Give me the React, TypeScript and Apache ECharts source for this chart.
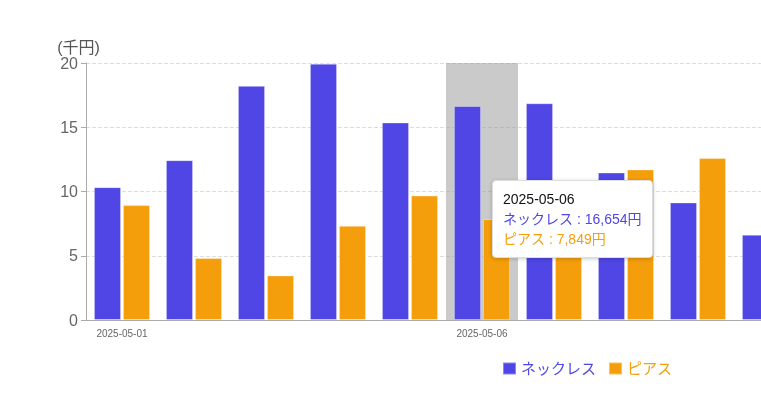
import React, { useEffect, useRef } from "react";
import * as echarts from "echarts";

const categories = [
  "2025-05-01", "2025-05-02", "2025-05-03", "2025-05-04", "2025-05-05",
  "2025-05-06", "2025-05-07", "2025-05-08", "2025-05-09", "2025-05-10",
];
// values in 千円
const necklace = [10.34, 12.44, 18.22, 19.95, 15.37, 16.654, 16.87, 11.48, 9.15, 6.64];
const earrings = [8.94, 4.82, 3.47, 7.33, 9.69, 7.849, 6.2, 11.72, 12.6, 8.4];
const seriesNames = ["ネックレス", "ピアス"];
const colors = ["#4f46e5", "#f59e0b"];
const yTicks = { min: 0, max: 20, interval: 5 };

const fmtYen = (v: number) => Math.round(v * 1000).toLocaleString("en-US") + "円";

export default function App() {
  const ref = useRef<HTMLDivElement>(null);
  useEffect(() => {
    if (!ref.current) return;
    const chart = echarts.init(ref.current, null, { renderer: "svg" });
    chart.setOption({
      animation: false,
      textStyle: { fontFamily: "Arial, 'Liberation Sans', 'Noto Sans CJK JP', sans-serif" },
      grid: { left: 78, top: 55, width: 720, height: 257 },
      legend: {
        left: 489,
        top: 348,
        icon: "rect",
        itemWidth: 13,
        itemHeight: 12,
        itemGap: 12,
        textStyle: { fontSize: 15 },
        data: seriesNames.map((n, i) => ({ name: n, textStyle: { color: colors[i] } })),
      },
      tooltip: {
        trigger: "axis",
        alwaysShowContent: true,
        transitionDuration: 0,
        axisPointer: { type: "shadow", z: 0, shadowStyle: { color: "rgba(150,150,150,0.5)" } },
        position: [484, 172],
        backgroundColor: "#fff",
        borderColor: "#ddd",
        borderWidth: 1,
        padding: [8, 10],
        extraCssText: "border-radius:4px;box-shadow:0 1px 4px rgba(0,0,0,0.2);",
        formatter: (params: any[]) => {
          let s = `<div style="font-size:14px;color:#111;line-height:20px">${params[0].axisValue}</div>`;
          params.forEach((p: any) => {
            s += `<div style="font-size:14px;color:${p.color};line-height:20px">${p.seriesName} : ${fmtYen(p.value)}</div>`;
          });
          return s;
        },
      },
      xAxis: {
        type: "category",
        data: categories,
        axisLine: { lineStyle: { color: "#aaa" } },
        axisTick: { alignWithLabel: true, interval: 4, lineStyle: { color: "#aaa" } },
        axisLabel: { interval: 4, fontSize: 10, color: "#666" },
      },
      yAxis: {
        type: "value",
        min: yTicks.min,
        max: yTicks.max,
        interval: yTicks.interval,
        name: "(千円)",
        nameGap: 7,
        nameTextStyle: { fontSize: 16, color: "#555", align: "center", padding: [0, 15, 0, 0] },
        axisLine: { show: true, lineStyle: { color: "#aaa" } },
        axisTick: { show: true, lineStyle: { color: "#aaa" } },
        axisLabel: { fontSize: 16, color: "#666" },
        splitLine: { lineStyle: { type: "dashed", color: "#ddd" } },
      },
      series: [
        {
          name: seriesNames[0],
          type: "bar",
          data: necklace,
          barCategoryGap: "22%",
          barGap: "7%",
          emphasis: { disabled: true },
          itemStyle: { color: colors[0], borderColor: "rgba(255,255,255,0.35)", borderWidth: 1 },
        },
        {
          name: seriesNames[1],
          type: "bar",
          data: earrings,
          barCategoryGap: "22%",
          barGap: "7%",
          emphasis: { disabled: true },
          itemStyle: { color: colors[1], borderColor: "rgba(255,255,255,0.35)", borderWidth: 1 },
        },
      ],
    });
    chart.dispatchAction({ type: "showTip", seriesIndex: 0, dataIndex: 5 });
    return () => {
      chart.dispose();
    };
  }, []);
  return (
    <div style={{ position: "fixed", left: 8, top: 8, width: 753, height: 380, overflow: "hidden" }}>
      <div ref={ref} style={{ width: 900, height: 380 }} />
    </div>
  );
}
